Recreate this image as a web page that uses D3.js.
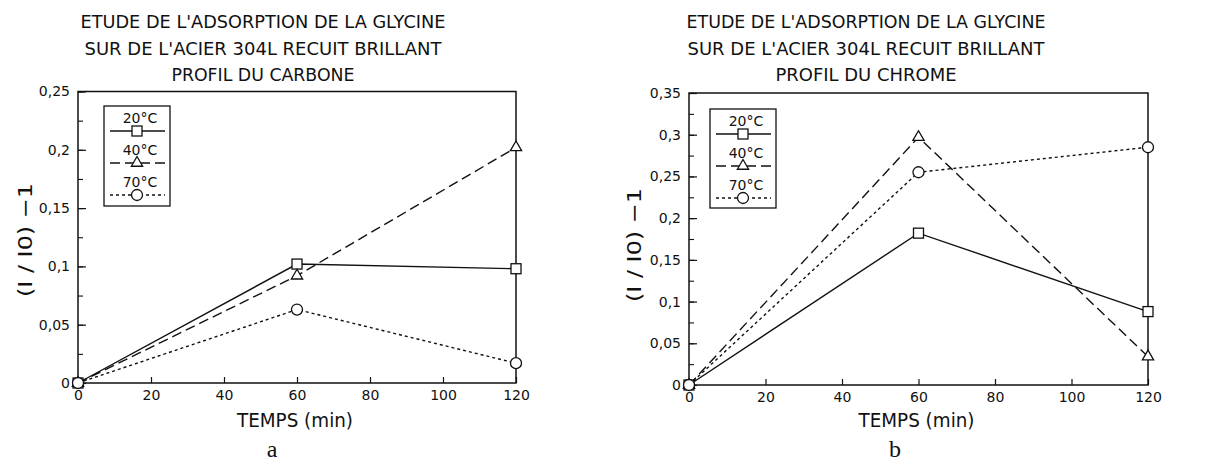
<!DOCTYPE html>
<html>
<head>
<meta charset="utf-8">
<script src="https://cdn.jsdelivr.net/npm/d3@7"></script>
<style>
  html, body { margin: 0; padding: 0; background: #fff; }
  svg text { font-family: "DejaVu Sans", sans-serif; fill: #111; }
</style>
</head>
<body>
<svg id="fig" width="1213" height="463"></svg>
<script>
// Sampling times (min)
const times = [0, 60, 120];
const temperatures = ["20°C", "40°C", "70°C"];

// Panel a: carbon profile, (I / I0) - 1
const carbon20 = [0, 0.102, 0.098];
const carbon40 = [0, 0.092, 0.202];
const carbon70 = [0, 0.063, 0.017];

// Panel b: chromium profile, (I / I0) - 1
const chrome20 = [0, 0.182, 0.088];
const chrome40 = [0, 0.297, 0.034];
const chrome70 = [0, 0.255, 0.285];

const xTicks = [0, 20, 40, 60, 80, 100, 120];
const yTicksA = [0, 0.05, 0.1, 0.15, 0.2, 0.25];
const yTicksB = [0, 0.05, 0.1, 0.15, 0.2, 0.25, 0.3, 0.35];

const titleLines = ["ETUDE DE L'ADSORPTION DE LA GLYCINE", "SUR DE L'ACIER 304L RECUIT BRILLANT"];
const subtitleA = "PROFIL DU CARBONE";
const subtitleB = "PROFIL DU CHROME";

const svg = d3.select("#fig");
const comma = v => (v === 0 ? "0" : String(v).replace(".", ","));

const styles = [
  { dash: null, marker: "square" },
  { dash: "10,5", marker: "triangle" },
  { dash: "3,3", marker: "circle" }
];

function drawMarker(g, kind, x, y) {
  if (kind === "square") {
    g.append("rect").attr("x", x - 5).attr("y", y - 5).attr("width", 10).attr("height", 10)
      .attr("fill", "#fff").attr("stroke", "#111").attr("stroke-width", 1.3);
  } else if (kind === "triangle") {
    const s = d3.symbol().type(d3.symbolTriangle).size(55);
    g.append("path").attr("d", s()).attr("transform", `translate(${x},${y})`)
      .attr("fill", "#fff").attr("stroke", "#111").attr("stroke-width", 1.3);
  } else {
    g.append("circle").attr("cx", x).attr("cy", y).attr("r", 5.5)
      .attr("fill", "#fff").attr("stroke", "#111").attr("stroke-width", 1.3);
  }
}

function drawPanel(p) {
  const g = svg.append("g");
  const x = d3.scaleLinear().domain([0, 120]).range([p.x0, p.x1]);
  const y = d3.scaleLinear().domain([0, p.yMax]).range([p.y0, p.y1]);

  // title block
  const titles = titleLines.concat([p.subtitle]);
  titles.forEach((t, i) => {
    g.append("text").attr("x", p.titleX).attr("y", 28 + i * 26.5)
      .attr("text-anchor", "middle").attr("font-size", 18)
      .attr("textLength", p.titleLen[i]).attr("lengthAdjust", "spacingAndGlyphs")
      .text(t);
  });

  // frame
  g.append("rect").attr("x", p.x0).attr("y", p.y1)
    .attr("width", p.x1 - p.x0).attr("height", p.y0 - p.y1)
    .attr("fill", "none").attr("stroke", "#111").attr("stroke-width", 1.5);

  // x axis with inward ticks
  const xa = g.append("g").attr("transform", `translate(0,${p.y0})`)
    .call(d3.axisBottom(x).tickValues(xTicks).tickSize(-6).tickPadding(7).tickFormat(d3.format("d")));
  xa.select(".domain").remove();
  xa.selectAll("line").attr("stroke", "#111").attr("stroke-width", 1.2);
  xa.selectAll("text").attr("font-size", 14).style("font-family", "DejaVu Sans, sans-serif").attr("fill", "#111");

  // y axis: minor ticks then major labelled ticks
  const minor = d3.range(0, p.yMax + 1e-9, 0.025);
  const ym = g.append("g").attr("transform", `translate(${p.x0},0)`)
    .call(d3.axisLeft(y).tickValues(minor).tickSize(-5).tickFormat(""));
  ym.select(".domain").remove();
  ym.selectAll("line").attr("stroke", "#111").attr("stroke-width", 1.1);

  const ya = g.append("g").attr("transform", `translate(${p.x0},0)`)
    .call(d3.axisLeft(y).tickValues(p.yTicks).tickSize(-8).tickPadding(8).tickFormat(comma));
  ya.select(".domain").remove();
  ya.selectAll("line").attr("stroke", "#111").attr("stroke-width", 1.2);
  ya.selectAll("text").attr("font-size", 14).style("font-family", "DejaVu Sans, sans-serif").attr("fill", "#111");

  // axis titles
  g.append("text").attr("x", (p.x0 + p.x1) / 2 - 2).attr("y", 427)
    .attr("text-anchor", "middle").attr("font-size", 19)
    .attr("textLength", 116).attr("lengthAdjust", "spacingAndGlyphs")
    .text("TEMPS (min)");
  g.append("text").attr("transform", `translate(${p.yLabelX},${p.yLabelY}) rotate(-90)`)
    .attr("text-anchor", "middle").attr("font-size", 20)
    .attr("textLength", 114).attr("lengthAdjust", "spacingAndGlyphs")
    .text("(I / I0) \u22121");

  // series
  const line = d3.line().x((d, i) => x(times[i])).y(d => y(d));
  p.series.forEach((vals, k) => {
    g.append("path").datum(vals).attr("d", line)
      .attr("fill", "none").attr("stroke", "#111").attr("stroke-width", 1.4)
      .attr("stroke-dasharray", styles[k].dash);
  });
  p.series.forEach((vals, k) => {
    vals.forEach((v, i) => drawMarker(g, styles[k].marker, x(times[i]), y(v)));
  });

  // legend
  const L = p.legend;
  g.append("rect").attr("x", L.x).attr("y", L.y).attr("width", L.w).attr("height", L.h)
    .attr("fill", "#fff").attr("stroke", "#111").attr("stroke-width", 1.3);
  temperatures.forEach((t, k) => {
    const ly = L.y + 25 + k * 32;
    g.append("text").attr("x", L.mx + 3).attr("y", ly - 8).attr("text-anchor", "middle")
      .attr("font-size", 14).text(t);
    g.append("line").attr("x1", L.x + 6).attr("x2", L.x + L.w - 5).attr("y1", ly).attr("y2", ly)
      .attr("stroke", "#111").attr("stroke-width", 1.3).attr("stroke-dasharray", styles[k].dash);
    drawMarker(g, styles[k].marker, L.mx, ly);
  });

  // panel letter
  g.append("text").attr("x", p.letterX).attr("y", 457).attr("text-anchor", "middle")
    .attr("font-size", 24).style("font-family", "Liberation Serif, serif").text(p.letter);
}

drawPanel({
  x0: 78, x1: 516, y0: 383, y1: 91.5, yMax: 0.25, yTicks: yTicksA,
  subtitle: subtitleA, titleX: 263, titleLen: [365, 357, 183],
  series: [carbon20, carbon40, carbon70],
  legend: { x: 104, y: 106, w: 66, h: 100, mx: 137 },
  yLabelX: 32, yLabelY: 240, letter: "a", letterX: 272
});

drawPanel({
  x0: 689, x1: 1148, y0: 385, y1: 93, yMax: 0.35, yTicks: yTicksB,
  subtitle: subtitleB, titleX: 866, titleLen: [359, 357, 181],
  series: [chrome20, chrome40, chrome70],
  legend: { x: 710, y: 109, w: 66, h: 99, mx: 743 },
  yLabelX: 641, yLabelY: 245, letter: "b", letterX: 895
});
</script>
</body>
</html>
